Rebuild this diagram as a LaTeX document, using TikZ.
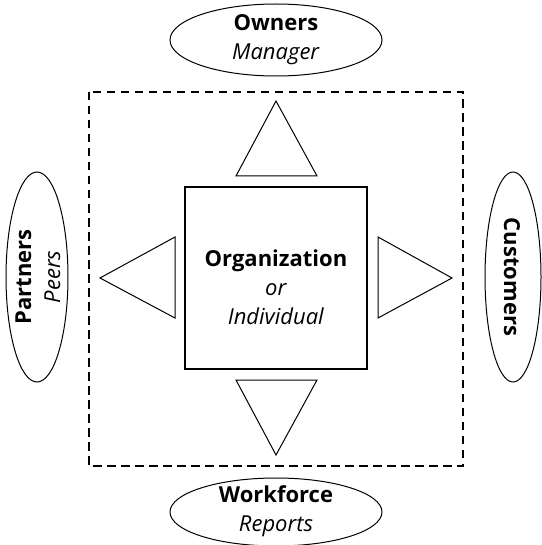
\documentclass[tikz,border=0pt]{standalone}
\usepackage{fontspec}
\setmainfont{Open Sans}
\usetikzlibrary{shapes.geometric}
\begin{document}
\begin{tikzpicture}[x=1pt,y=-1pt,
  tri/.style={draw,line width=1pt},
  lbl/.style={align=center,font=\fontsize{22}{29}\selectfont}]
\useasboundingbox (0,0) rectangle (541,545);
% dashed frame
\draw[line width=1.9pt,dash pattern=on 8.5pt off 5.5pt] (89,92) rectangle (463,466);
% center square
\node[draw,line width=1.8pt,minimum size=182pt,inner sep=0pt] (org) at (276,278) {};
\node[lbl] (orgt) at (276,287) {\textbf{Organization}\\\textit{or}\\\textit{Individual}};
% ellipses
\draw[line width=1pt] (276,40) ellipse [x radius=106, y radius=36];
\node[lbl] (own) at (276,40) {\textbf{Owners}\\\textit{Manager}};
\draw[line width=1pt] (276,512) ellipse [x radius=106, y radius=34];
\node[lbl] (wf) at (276,511) {\textbf{Workforce}\\\textit{Reports}};
\draw[line width=1pt] (37,277) ellipse [x radius=31, y radius=105];
\node[lbl,rotate=90] (par) at (38,277) {\textbf{Partners}\\\textit{Peers}};
\draw[line width=1pt] (513,277) ellipse [x radius=28, y radius=105];
\node[lbl,rotate=-90] (cus) at (512,277) {\textbf{Customers}};
% triangles
\coordinate (ta) at (276,101);
\draw[tri] (ta) -- (317,176) -- (236,176) -- cycle;
\coordinate (ba) at (276,455);
\draw[tri] (ba) -- (317,380) -- (236,380) -- cycle;
\coordinate (la) at (100,278);
\draw[tri] (la) -- (175,237) -- (175,318) -- cycle;
\coordinate (ra) at (452,278);
\draw[tri] (ra) -- (378,237) -- (378,318) -- cycle;
\end{tikzpicture}
\end{document}
